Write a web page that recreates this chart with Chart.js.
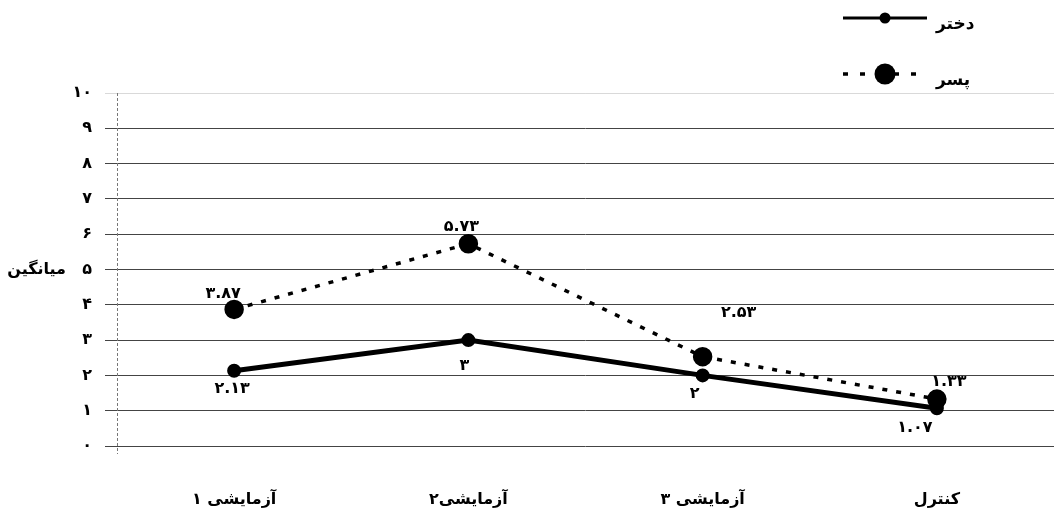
<!DOCTYPE html>
<html lang="fa">
<head>
<meta charset="utf-8">
<script src="https://cdn.jsdelivr.net/npm/chart.js@4.4.1/dist/chart.umd.min.js"></script>
<style>
  html, body { margin: 0; padding: 0; background: #fff; }
  #wrap { width: 1054px; height: 511px; }
</style>
</head>
<body>
<div id="wrap"><canvas id="c" width="1054" height="511"></canvas></div>
<script>
// Group means per session
const categories = ['آزمایشی ۱', 'آزمایشی۲', 'آزمایشی ۳', 'کنترل'];
const girls = [2.13, 3, 2, 1.07];
const boys = [3.87, 5.73, 2.53, 1.33];
const seriesNames = ['دختر', 'پسر'];
const yTicks = [0, 1, 2, 3, 4, 5, 6, 7, 8, 9, 10];
const yTitle = 'میانگین';

const FONT = '"DejaVu Sans", sans-serif';
const faDigits = '۰۱۲۳۴۵۶۷۸۹';
const toFa = v => String(v).replace(/[0-9]/g, d => faDigits[+d]);

// where each value label sits relative to its point
const labelOffsets = [
  [[-2, 18], [-4, 26], [-8, 18], [-22, 20]],
  [[-11, -16], [-7, -17], [36, -44], [12, -17]]
];

const valueLabels = {
  id: 'valueLabels',
  afterDatasetsDraw(chart) {
    const ctx = chart.ctx;
    ctx.save();
    ctx.font = 'bold 16px ' + FONT;
    ctx.fillStyle = '#000';
    ctx.textAlign = 'center';
    ctx.textBaseline = 'middle';
    chart.data.datasets.forEach((ds, di) => {
      chart.getDatasetMeta(di).data.forEach((pt, i) => {
        const [dx, dy] = labelOffsets[di][i];
        ctx.fillText(toFa(ds.data[i]), pt.x + dx, pt.y + dy);
      });
    });
    ctx.restore();
  }
};

// dashed vertical axis line and the axis title beside the tick labels
const sideAxis = {
  id: 'sideAxis',
  beforeDatasetsDraw(chart) {
    const ctx = chart.ctx;
    const a = chart.chartArea;
    ctx.save();
    ctx.strokeStyle = '#777';
    ctx.lineWidth = 1;
    ctx.setLineDash([3, 2]);
    ctx.beginPath();
    ctx.moveTo(a.left + 0.5, a.top);
    ctx.lineTo(a.left + 0.5, a.bottom + 8);
    ctx.stroke();
    ctx.restore();
  },
  afterDraw(chart) {
    const ctx = chart.ctx;
    const y = chart.scales.y.getPixelForValue(5);
    ctx.save();
    ctx.font = 'bold 16px ' + FONT;
    ctx.fillStyle = '#000';
    ctx.textAlign = 'right';
    ctx.textBaseline = 'middle';
    ctx.fillText(yTitle, 66, y);
    ctx.restore();
  }
};

const cornerLegend = {
  id: 'cornerLegend',
  afterDraw(chart) {
    const ctx = chart.ctx;
    const rows = [18, 74];
    ctx.save();
    chart.data.datasets.forEach((ds, i) => {
      const y = rows[i];
      ctx.strokeStyle = '#000';
      ctx.lineWidth = i === 0 ? 3 : 3.5;
      ctx.setLineDash(i === 0 ? [] : [5, 12]);
      ctx.beginPath();
      ctx.moveTo(843, y);
      ctx.lineTo(927, y);
      ctx.stroke();
      ctx.setLineDash([]);
      ctx.fillStyle = '#000';
      ctx.beginPath();
      ctx.arc(885, y, i === 0 ? 5.5 : 10.5, 0, Math.PI * 2);
      ctx.fill();
      ctx.font = 'bold 17px ' + FONT;
      ctx.textAlign = 'left';
      ctx.textBaseline = 'middle';
      ctx.fillText(ds.label, 936, y + 7);
    });
    ctx.restore();
  }
};

new Chart(document.getElementById('c'), {
  type: 'line',
  data: {
    labels: categories,
    datasets: [
      {
        label: seriesNames[0],
        data: girls,
        borderColor: '#000',
        backgroundColor: '#000',
        borderWidth: 5,
        pointRadius: 4.5,
        pointHoverRadius: 4.5,
        tension: 0
      },
      {
        label: seriesNames[1],
        data: boys,
        borderColor: '#000',
        backgroundColor: '#000',
        borderWidth: 3.5,
        borderDash: [5, 9],
        pointRadius: 8,
        pointHoverRadius: 8,
        tension: 0
      }
    ]
  },
  options: {
    responsive: false,
    animation: false,
    events: [],
    layout: { autoPadding: false, padding: { top: 93, right: 0, left: 0, bottom: 0 } },
    plugins: { legend: { display: false }, tooltip: { enabled: false } },
    scales: {
      x: {
        offset: true,
        grid: { display: false },
        border: { display: false },
        ticks: { font: { family: FONT, size: 16, weight: 'bold' }, color: '#000', padding: 36, maxRotation: 0 },
        afterFit(s) { s.height = 65; s.paddingLeft = 0; s.paddingRight = 0; }
      },
      y: {
        min: 0,
        max: 10,
        afterBuildTicks(s) { s.ticks = yTicks.map(v => ({ value: v })); },
        grid: {
          color: c => (c.tick && c.tick.value === 10) ? 'rgba(0,0,0,0.15)' : '#444',
          lineWidth: 1,
          tickLength: 12
        },
        border: { display: false },
        ticks: {
          font: { family: FONT, size: 16, weight: 'bold' },
          color: '#000',
          padding: 13,
          callback: v => toFa(v)
        },
        afterFit(s) { s.width = 117; s.paddingTop = 0; s.paddingBottom = 0; }
      }
    }
  },
  plugins: [valueLabels, sideAxis, cornerLegend]
});
</script>
</body>
</html>
